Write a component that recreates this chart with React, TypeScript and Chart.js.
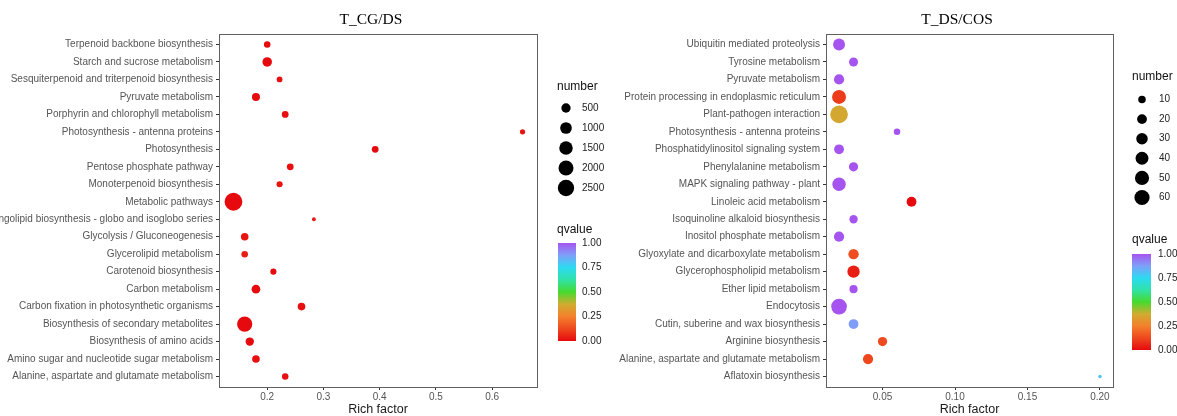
import React, { useEffect, useRef } from "react";
import { Chart, registerables } from "chart.js";

Chart.register(...registerables);

// ---------------- data: T_CG/DS ----------------
const cgdsTitle = "T_CG/DS";
const cgdsPathways = [
  "Terpenoid backbone biosynthesis",
  "Starch and sucrose metabolism",
  "Sesquiterpenoid and triterpenoid biosynthesis",
  "Pyruvate metabolism",
  "Porphyrin and chlorophyll metabolism",
  "Photosynthesis - antenna proteins",
  "Photosynthesis",
  "Pentose phosphate pathway",
  "Monoterpenoid biosynthesis",
  "Metabolic pathways",
  "Glycosphingolipid biosynthesis - globo and isoglobo series",
  "Glycolysis / Gluconeogenesis",
  "Glycerolipid metabolism",
  "Carotenoid biosynthesis",
  "Carbon metabolism",
  "Carbon fixation in photosynthetic organisms",
  "Biosynthesis of secondary metabolites",
  "Biosynthesis of amino acids",
  "Amino sugar and nucleotide sugar metabolism",
  "Alanine, aspartate and glutamate metabolism",
];
const cgdsRichFactor = [
  0.2, 0.2, 0.222, 0.18, 0.232, 0.654, 0.392, 0.241, 0.222, 0.14,
  0.283, 0.16, 0.16, 0.211, 0.18, 0.261, 0.16, 0.169, 0.18, 0.232,
];
const cgdsNumber = [
  140, 540, 78, 305, 160, 55, 160, 160, 106, 3120,
  20, 250, 140, 106, 395, 250, 2095, 350, 250, 140,
];
const cgdsQvalue = [
  0.0, 0.0, 0.01, 0.0, 0.01, 0.02, 0.0, 0.01, 0.02, 0.0,
  0.03, 0.02, 0.04, 0.0, 0.0, 0.01, 0.0, 0.0, 0.01, 0.01,
];
const cgdsXTicks = [0.2, 0.3, 0.4, 0.5, 0.6];
const cgdsSizeBreaks = [500, 1000, 1500, 2000, 2500];

// ---------------- data: T_DS/COS ----------------
const dscosTitle = "T_DS/COS";
const dscosPathways = [
  "Ubiquitin mediated proteolysis",
  "Tyrosine metabolism",
  "Pyruvate metabolism",
  "Protein processing in endoplasmic reticulum",
  "Plant-pathogen interaction",
  "Photosynthesis - antenna proteins",
  "Phosphatidylinositol signaling system",
  "Phenylalanine metabolism",
  "MAPK signaling pathway - plant",
  "Linoleic acid metabolism",
  "Isoquinoline alkaloid biosynthesis",
  "Inositol phosphate metabolism",
  "Glyoxylate and dicarboxylate metabolism",
  "Glycerophospholipid metabolism",
  "Ether lipid metabolism",
  "Endocytosis",
  "Cutin, suberine and wax biosynthesis",
  "Arginine biosynthesis",
  "Alanine, aspartate and glutamate metabolism",
  "Aflatoxin biosynthesis",
];
const dscosRichFactor = [
  0.02, 0.03, 0.02, 0.02, 0.02, 0.06, 0.02, 0.03, 0.02, 0.07,
  0.03, 0.02, 0.03, 0.03, 0.03, 0.02, 0.03, 0.05, 0.04, 0.2,
];
const dscosNumber = [
  33, 16, 22, 49, 86, 7, 20, 17, 44, 20,
  13, 22, 23, 36, 12, 65, 20, 17, 22, 3,
];
const dscosQvalue = [
  1.0, 1.0, 1.0, 0.1, 0.36, 1.0, 1.0, 1.0, 1.0, 0.0,
  1.0, 1.0, 0.14, 0.04, 1.0, 1.0, 0.88, 0.13, 0.12, 0.8,
];
const dscosXTicks = [0.05, 0.1, 0.15, 0.2];
const dscosSizeBreaks = [10, 20, 30, 40, 50, 60];

const qvalueTicks = [1.0, 0.75, 0.5, 0.25, 0.0];

// ---------------- styling ----------------
const SANS = '"Liberation Sans", Arial, Helvetica, sans-serif';
const SERIF = '"Liberation Serif", "Times New Roman", Times, serif';
const CANVAS_H = 416;
const PLOT_TOP = 34;
const PLOT_BOTTOM = 387;
const BORDER = "#606060";
const TICK_TEXT = "#555555";

const Q_STOPS: Array<[number, [number, number, number]]> = [
  [0.0, [230, 10, 14]],
  [0.125, [238, 72, 30]],
  [0.25, [244, 128, 44]],
  [0.375, [208, 172, 48]],
  [0.5, [70, 218, 46]],
  [0.625, [48, 226, 168]],
  [0.75, [44, 218, 242]],
  [0.875, [126, 160, 248]],
  [1.0, [166, 84, 240]],
];

function rgb(c: [number, number, number]) {
  return `rgb(${Math.round(c[0])},${Math.round(c[1])},${Math.round(c[2])})`;
}

function qColor(q: number) {
  const v = Math.max(0, Math.min(1, q));
  for (let i = 0; i < Q_STOPS.length - 1; i++) {
    const [p0, c0] = Q_STOPS[i];
    const [p1, c1] = Q_STOPS[i + 1];
    if (v <= p1) {
      const f = (v - p0) / (p1 - p0);
      return rgb([
        c0[0] + (c1[0] - c0[0]) * f,
        c0[1] + (c1[1] - c0[1]) * f,
        c0[2] + (c1[2] - c0[2]) * f,
      ]);
    }
  }
  return rgb(Q_STOPS[Q_STOPS.length - 1][1]);
}

type PanelSpec = {
  key: string;
  title: string;
  pathways: string[];
  rich: number[];
  number: number[];
  q: number[];
  xTicks: number[];
  xDecimals: number;
  sizeBreaks: number[];
  rMin: number;
  rMax: number;
  canvasWidth: number;
  plotLeft: number;
  plotRight: number;
  titleX: number;
  titleY: number;
  legendX: number;
  numberTitleY: number;
  keyX: number;
  keyY0: number;
  keyStep: number;
  keyLabelX: number;
  qTitleY: number;
  barX: number;
  barW: number;
  barTop: number;
  barBottom: number;
  qLabelX: number;
};

function decorPlugin(spec: PanelSpec, radius: (n: number) => number) {
  return {
    id: "decor_" + spec.key,
    afterDraw(chart: any) {
      const ctx: CanvasRenderingContext2D = chart.ctx;
      const { left, top, right, bottom } = chart.chartArea;
      ctx.save();
      // panel border
      ctx.strokeStyle = BORDER;
      ctx.lineWidth = 1;
      const x0 = Math.round(left - 0.5) + 0.5;
      const y0 = Math.round(top - 0.5) + 0.5;
      const x1 = Math.round(right - 0.5) + 0.5;
      const y1 = Math.round(bottom - 0.5) + 0.5;
      ctx.strokeRect(x0, y0, x1 - x0, y1 - y0);

      // plot title
      ctx.fillStyle = "#000";
      ctx.font = `15.5px ${SERIF}`;
      ctx.textAlign = "center";
      ctx.textBaseline = "middle";
      ctx.fillText(spec.title, spec.titleX, spec.titleY);

      // size legend
      ctx.textAlign = "left";
      ctx.font = `12px ${SANS}`;
      ctx.fillStyle = "#111";
      ctx.fillText("number", spec.legendX, spec.numberTitleY);
      spec.sizeBreaks.forEach((b, i) => {
        const y = spec.keyY0 + i * spec.keyStep;
        ctx.beginPath();
        ctx.arc(spec.keyX, y, radius(b), 0, Math.PI * 2);
        ctx.fillStyle = "#000";
        ctx.fill();
        ctx.font = `10px ${SANS}`;
        ctx.fillStyle = "#222";
        ctx.fillText(String(b), spec.keyLabelX, y);
      });

      // colour bar
      ctx.font = `12px ${SANS}`;
      ctx.fillStyle = "#111";
      ctx.fillText("qvalue", spec.legendX, spec.qTitleY);
      const g = ctx.createLinearGradient(0, spec.barBottom, 0, spec.barTop);
      Q_STOPS.forEach(([p, c]) => g.addColorStop(p, rgb(c)));
      ctx.fillStyle = g;
      ctx.fillRect(spec.barX, spec.barTop, spec.barW, spec.barBottom - spec.barTop);
      ctx.font = `10px ${SANS}`;
      ctx.fillStyle = "#222";
      qvalueTicks.forEach((v) => {
        const y = spec.barBottom - v * (spec.barBottom - spec.barTop);
        ctx.fillText(v.toFixed(2), spec.qLabelX, y);
      });
      ctx.restore();
    },
  };
}

function buildChart(canvas: HTMLCanvasElement, spec: PanelSpec) {
  const lo = Math.min(...spec.rich);
  const hi = Math.max(...spec.rich);
  const pad = (hi - lo) * 0.05;
  const nLo = Math.min(...spec.number);
  const nHi = Math.max(...spec.number);
  const radius = (n: number) =>
    spec.rMin + (spec.rMax - spec.rMin) * Math.sqrt(Math.max(0, (n - nLo) / (nHi - nLo)));

  const tickFont = { family: SANS, size: 10 };

  return new Chart(canvas, {
    type: "scatter",
    data: {
      datasets: [
        {
          data: spec.rich.map((x, i) => ({ x, y: i })),
          pointRadius: spec.number.map(radius),
          pointHoverRadius: spec.number.map(radius),
          pointBackgroundColor: spec.q.map(qColor),
          pointBorderColor: spec.q.map(qColor),
          pointBorderWidth: 0,
          pointStyle: "circle",
        },
      ],
    },
    options: {
      animation: false,
      responsive: false,
      devicePixelRatio: 1,
      events: [],
      layout: {
        padding: { left: 0, right: spec.canvasWidth - spec.plotRight, top: PLOT_TOP, bottom: 0 },
      },
      plugins: {
        legend: { display: false },
        tooltip: { enabled: false },
        title: { display: false },
      },
      scales: {
        x: {
          type: "linear",
          position: "bottom",
          min: lo - pad,
          max: hi + pad,
          afterBuildTicks: (s: any) => {
            s.ticks = spec.xTicks.map((v) => ({ value: v }));
          },
          afterFit: (s: any) => {
            s.height = CANVAS_H - PLOT_BOTTOM;
          },
          ticks: {
            callback: (v: any) => Number(v).toFixed(spec.xDecimals),
            font: tickFont,
            color: TICK_TEXT,
            padding: 1,
            autoSkip: false,
            maxRotation: 0,
            minRotation: 0,
          },
          grid: { drawOnChartArea: false, drawTicks: true, tickLength: 3, color: "#333", lineWidth: 1 },
          border: { display: false },
          title: {
            display: true,
            text: "Rich factor",
            font: { family: SANS, size: 12.5, lineHeight: 1 },
            color: "#1a1a1a",
            padding: 0,
          },
        },
        y: {
          type: "linear",
          position: "left",
          reverse: true,
          min: -0.6,
          max: spec.pathways.length - 1 + 0.6,
          afterBuildTicks: (s: any) => {
            s.ticks = spec.pathways.map((_, i) => ({ value: i }));
          },
          afterFit: (s: any) => {
            s.width = spec.plotLeft;
          },
          ticks: {
            callback: (v: any) => spec.pathways[Math.round(Number(v))],
            font: tickFont,
            color: TICK_TEXT,
            padding: 3,
            autoSkip: false,
          },
          grid: { drawOnChartArea: false, drawTicks: true, tickLength: 3, color: "#333", lineWidth: 1 },
          border: { display: false },
        },
      },
    } as any,
    plugins: [decorPlugin(spec, radius)],
  });
}

const LEFT_W = 612;
const RIGHT_W = 1177 - LEFT_W;

const leftSpec: PanelSpec = {
  key: "cgds",
  title: cgdsTitle,
  pathways: cgdsPathways,
  rich: cgdsRichFactor,
  number: cgdsNumber,
  q: cgdsQvalue,
  xTicks: cgdsXTicks,
  xDecimals: 1,
  sizeBreaks: cgdsSizeBreaks,
  rMin: 1.9,
  rMax: 8.9,
  canvasWidth: LEFT_W,
  plotLeft: 219,
  plotRight: 537,
  titleX: 371,
  titleY: 20,
  legendX: 557,
  numberTitleY: 87,
  keyX: 566,
  keyY0: 108,
  keyStep: 20,
  keyLabelX: 582,
  qTitleY: 230,
  barX: 558,
  barW: 18,
  barTop: 243,
  barBottom: 341,
  qLabelX: 582,
};

const rightSpec: PanelSpec = {
  key: "dscos",
  title: dscosTitle,
  pathways: dscosPathways,
  rich: dscosRichFactor,
  number: dscosNumber,
  q: dscosQvalue,
  xTicks: dscosXTicks,
  xDecimals: 2,
  sizeBreaks: dscosSizeBreaks,
  rMin: 1.7,
  rMax: 8.8,
  canvasWidth: RIGHT_W,
  plotLeft: 214,
  plotRight: 501,
  titleX: 345,
  titleY: 20,
  legendX: 520,
  numberTitleY: 77,
  keyX: 530,
  keyY0: 99.5,
  keyStep: 19.6,
  keyLabelX: 547,
  qTitleY: 240,
  barX: 520,
  barW: 19,
  barTop: 254,
  barBottom: 350,
  qLabelX: 546,
};

export default function App() {
  const leftRef = useRef<HTMLCanvasElement | null>(null);
  const rightRef = useRef<HTMLCanvasElement | null>(null);

  useEffect(() => {
    const charts: Chart[] = [];
    if (leftRef.current) charts.push(buildChart(leftRef.current, leftSpec));
    if (rightRef.current) charts.push(buildChart(rightRef.current, rightSpec));
    return () => charts.forEach((c) => c.destroy());
  }, []);

  return (
    <div
      style={{
        position: "absolute",
        left: 0,
        top: 0,
        width: 1177,
        height: CANVAS_H,
        background: "#ffffff",
        overflow: "hidden",
      }}
    >
      <canvas
        ref={leftRef}
        width={LEFT_W}
        height={CANVAS_H}
        style={{ position: "absolute", left: 0, top: 0, width: LEFT_W, height: CANVAS_H }}
      />
      <canvas
        ref={rightRef}
        width={RIGHT_W}
        height={CANVAS_H}
        style={{ position: "absolute", left: LEFT_W, top: 0, width: RIGHT_W, height: CANVAS_H }}
      />
    </div>
  );
}
